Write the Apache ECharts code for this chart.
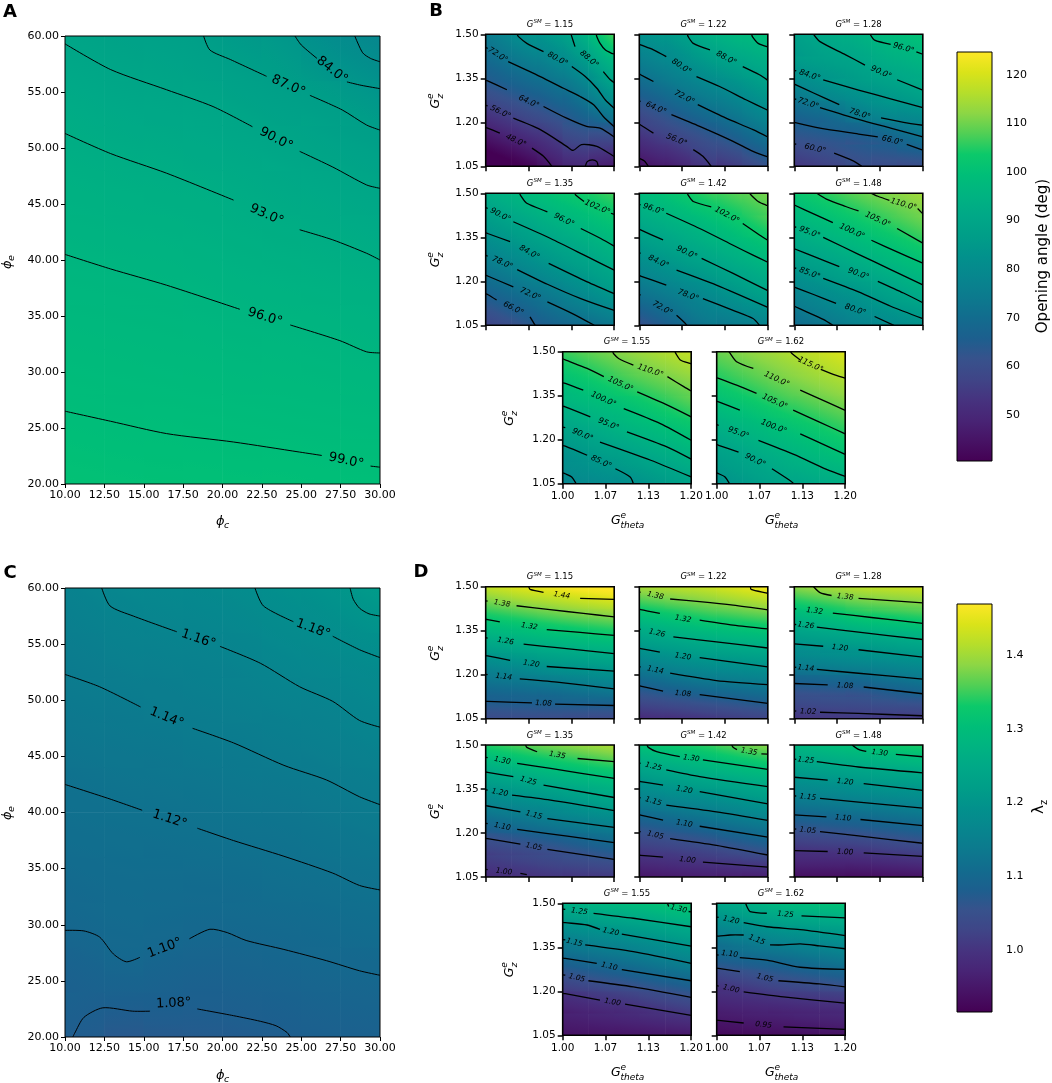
<!DOCTYPE html>
<html><head><meta charset="utf-8">
<script src="https://cdn.jsdelivr.net/npm/echarts@6/dist/echarts.min.js"></script>
<style>html,body{margin:0;padding:0;background:#fff}#c{width:1052px;height:1083px}</style>
</head><body><div id="c"></div>
<script>
// ---------------- DATA ----------------
const PHI_C_TICKS = [10, 12.5, 15, 17.5, 20, 22.5, 25, 27.5, 30];
const PHI_E_TICKS = [20, 25, 30, 35, 40, 45, 50, 55, 60];
const PHI_C_CENTERS = [11.25, 13.75, 16.25, 18.75, 21.25, 23.75, 26.25, 28.75];
const PHI_E_CENTERS = [22, 26, 30, 34, 38, 42, 46, 50, 54, 58];
const A_VALUES = [
  [99.9, 99.7, 99.6, 99.5, 99.4, 99.3, 99.1, 99.0],
  [99.0, 98.8, 98.7, 98.6, 98.4, 98.2, 98.0, 97.8],
  [98.2, 98.0, 97.8, 97.6, 97.3, 97.2, 96.9, 96.6],
  [97.3, 97.1, 96.9, 96.6, 96.3, 96.1, 95.8, 95.4],
  [96.4, 96.2, 96.0, 95.6, 95.1, 94.8, 94.4, 94.0],
  [95.4, 95.1, 94.8, 94.4, 93.9, 93.5, 93.0, 92.4],
  [94.3, 93.9, 93.6, 93.2, 92.6, 91.9, 91.3, 90.5],
  [93.1, 92.6, 92.1, 91.6, 91.0, 90.3, 89.3, 88.3],
  [91.7, 91.0, 90.5, 90.0, 89.1, 88.0, 87.1, 85.6],
  [90.1, 89.4, 88.9, 88.0, 86.7, 85.7, 83.4, 81.6]
];
const C_VALUES = [
  [1.081, 1.078, 1.079, 1.079, 1.081, 1.084, 1.088, 1.090],
  [1.091, 1.096, 1.093, 1.090, 1.092, 1.095, 1.098, 1.100],
  [1.101, 1.105, 1.104, 1.102, 1.103, 1.105, 1.108, 1.111],
  [1.107, 1.110, 1.110, 1.110, 1.112, 1.115, 1.118, 1.121],
  [1.114, 1.116, 1.117, 1.119, 1.122, 1.124, 1.128, 1.132],
  [1.120, 1.123, 1.125, 1.128, 1.131, 1.134, 1.137, 1.142],
  [1.129, 1.132, 1.134, 1.137, 1.140, 1.144, 1.148, 1.154],
  [1.137, 1.140, 1.143, 1.147, 1.150, 1.155, 1.159, 1.166],
  [1.145, 1.150, 1.153, 1.156, 1.160, 1.168, 1.173, 1.179],
  [1.154, 1.161, 1.164, 1.168, 1.173, 1.182, 1.188, 1.199]
];
const A_CONTOURS = [
  {a: [[28.4, 60], [28.9, 58.5], [29.4, 58.0], [30, 57.7]]},
  {lv: '84.0°', a: [[24.6, 60], [25.0, 59.2], [26.0, 58.0]], b: [[27.9, 55.9], [28.8, 55.6], [30, 55.3]]},
  {lv: '87.0°', a: [[18.8, 60], [19.2, 58.75], [20.5, 57.9], [22.8, 56.4]], b: [[25.55, 54.7], [27.6, 53.4], [29.15, 52.05], [30, 51.6]]},
  {lv: '90.0°', a: [[10, 59.3], [12.9, 57], [16.45, 55.2], [19.4, 53.7], [21.9, 51.9]], b: [[24.9, 49.7], [27, 48.3], [29.15, 46.7], [30, 46.4]]},
  {lv: '93.0°', a: [[10, 51.3], [12.9, 49.5], [16.45, 47.75], [20.7, 45.35]], b: [[24.9, 42.7], [27, 41.8], [29.15, 40.6], [30, 40.0]]},
  {lv: '96.0°', a: [[10, 40.5], [12.9, 39.2], [16.45, 37.75], [21.1, 35.6]], b: [[24.3, 34.2], [27.45, 32.8], [29.15, 31.8], [30, 31.7]]},
  {lv: '99.0°', a: [[10, 26.5], [12.9, 25.6], [16.45, 24.5], [20.7, 23.75], [24.9, 22.85], [26.3, 22.55]], b: [[29.4, 21.6], [30, 21.5]]}
];
const C_CONTOURS = [
  {a: [[28.1, 60], [28.3, 59.0], [28.7, 58.2], [29.3, 57.7], [30, 57.5]]},
  {lv: '1.18°', a: [[22.06, 60], [22.6, 58.4], [24.5, 57.0]], b: [[27.0, 55.7], [28.7, 54.5], [30, 53.8]]},
  {lv: '1.16°', a: [[12.33, 60], [12.86, 58.4], [14.34, 57.5], [17.1, 56.1]], b: [[19.84, 54.8], [22.4, 53.3], [24.9, 51.2], [27.0, 49.9], [28.7, 48.2], [30, 47.6]]},
  {lv: '1.14°', a: [[10, 52.3], [12.2, 51.2], [14.8, 49.4]], b: [[18.1, 47.5], [20.7, 46.2], [23.9, 44.2], [26.6, 42.9], [28.7, 41.4], [30, 40.7]]},
  {lv: '1.12°', a: [[10, 42.5], [12.86, 41.2], [14.9, 40.2]], b: [[18.4, 38.6], [20.7, 37.5], [23.9, 36.1], [27.0, 34.6], [28.7, 33.5], [30, 33.1]]},
  {lv: '1.10°', a: [[10, 29.5], [11.2, 29.45], [12.2, 28.9], [13.07, 27.4], [13.9, 26.7], [14.76, 27.1]], b: [[17.9, 28.75], [19.2, 29.6], [20.3, 29.3], [21.5, 28.6], [23.9, 27.8], [26.6, 26.8], [28.7, 25.9], [30, 25.5]]},
  {lv: '1.08°', a: [[10.5, 20], [10.6, 20.3], [11.2, 21.75], [12.4, 22.6], [14.3, 22.3], [15.4, 22.3]], b: [[18.4, 22.5], [20.7, 21.9], [22.4, 21.4], [23.4, 21.0], [24.1, 20.4], [24.3, 20]], at: [16.9, 23.0]}
];

const GSM = [1.15, 1.22, 1.28, 1.35, 1.42, 1.48, 1.55, 1.62];
const GTHETA_TICKS = [1.0, 1.0667, 1.1333, 1.2];
const GZ_TICKS = [1.05, 1.2, 1.35, 1.5];
const GTHETA_CENTERS = [1.02, 1.06, 1.10, 1.14, 1.18];
const GZ_CENTERS = [1.0875, 1.1625, 1.2375, 1.3125, 1.3875, 1.4625];
const B_VALUES = [
  [[40.5, 44.1, 49.1, 53.4, 52.0], [48.3, 52.1, 55.8, 60.6, 61.2], [56.0, 59.7, 63.1, 67.2, 73.0], [63.3, 66.4, 69.6, 73.8, 82.3], [69.0, 72.6, 76.1, 81.2, 90.0], [74.3, 79.1, 82.3, 88.2, 98.5]],
  [[49.0, 52.0, 56.6, 58.4, 63.2], [55.7, 59.1, 62.6, 66.3, 71.0], [62.0, 66.1, 70.1, 73.5, 78.0], [69.2, 73.0, 76.8, 80.2, 84.2], [75.5, 79.0, 83.3, 86.9, 90.1], [81.1, 84.2, 89.6, 93.2, 95.8]],
  [[57.8, 59.8, 62.0, 62.6, 63.8], [63.8, 65.1, 66.3, 68.6, 72.1], [69.7, 72.0, 76.7, 80.2, 81.7], [78.3, 81.8, 84.2, 86.2, 88.8], [85.0, 86.6, 88.7, 91.5, 93.4], [87.8, 90.5, 92.6, 95.6, 97.6]],
  [[62.0, 65.6, 69.2, 72.5, 75.8], [68.4, 71.7, 75.0, 79.2, 83.3], [74.6, 78.2, 81.9, 85.5, 89.1], [80.6, 84.2, 87.7, 90.9, 94.2], [86.3, 89.7, 93.0, 96.0, 98.9], [91.7, 95.0, 98.2, 100.8, 103.4]],
  [[66.7, 70.9, 75.1, 77.5, 79.8], [73.6, 76.8, 79.9, 83.6, 87.3], [80.2, 83.4, 86.5, 89.8, 93.0], [86.1, 89.2, 92.3, 95.4, 98.5], [91.7, 94.5, 97.3, 100.6, 103.9], [96.8, 99.8, 102.8, 105.2, 107.6]],
  [[73.8, 76.7, 79.6, 82.3, 84.8], [79.1, 82.0, 84.7, 88.0, 91.3], [85.3, 88.2, 91.1, 94.0, 96.8], [91.0, 93.6, 96.3, 99.2, 102.1], [96.1, 98.8, 101.5, 104.3, 107.0], [101.0, 103.8, 106.5, 108.8, 111.1]],
  [[80.9, 82.5, 84.1, 87.0, 89.8], [84.6, 87.1, 89.5, 92.4, 95.2], [90.4, 93.0, 95.6, 98.1, 100.5], [95.8, 98.0, 100.2, 103.0, 105.7], [100.5, 103.1, 105.7, 107.9, 110.1], [105.2, 107.7, 110.2, 112.4, 114.6]],
  [[85.6, 88.3, 91.0, 93.0, 95.0], [89.6, 92.4, 95.1, 97.6, 100.0], [94.5, 97.2, 99.8, 102.2, 104.5], [99.8, 102.3, 104.8, 106.9, 109.0], [104.5, 106.9, 109.3, 111.4, 113.5], [108.6, 110.9, 113.1, 115.3, 117.5]]
];
const D_VALUES = [
  [[1.066, 1.069, 1.071, 1.072, 1.072], [1.116, 1.122, 1.129, 1.138, 1.147], [1.179, 1.192, 1.206, 1.214, 1.222], [1.255, 1.267, 1.279, 1.288, 1.296], [1.323, 1.335, 1.347, 1.357, 1.366], [1.395, 1.410, 1.422, 1.434, 1.444]],
  [[1.022, 1.031, 1.040, 1.049, 1.058], [1.090, 1.103, 1.115, 1.123, 1.131], [1.160, 1.174, 1.188, 1.195, 1.202], [1.229, 1.243, 1.257, 1.266, 1.275], [1.297, 1.312, 1.327, 1.336, 1.345], [1.372, 1.383, 1.393, 1.406, 1.419]],
  [[1.027, 1.030, 1.033, 1.037, 1.040], [1.076, 1.080, 1.083, 1.096, 1.108], [1.150, 1.157, 1.164, 1.171, 1.178], [1.209, 1.219, 1.228, 1.238, 1.248], [1.279, 1.295, 1.311, 1.319, 1.327], [1.355, 1.369, 1.382, 1.389, 1.395]],
  [[1.007, 1.015, 1.023, 1.029, 1.035], [1.044, 1.055, 1.066, 1.079, 1.092], [1.110, 1.124, 1.138, 1.150, 1.161], [1.175, 1.188, 1.200, 1.216, 1.231], [1.239, 1.255, 1.270, 1.283, 1.296], [1.310, 1.326, 1.341, 1.354, 1.367]],
  [[0.978, 0.984, 0.990, 0.995, 1.000], [1.029, 1.038, 1.047, 1.061, 1.075], [1.088, 1.101, 1.113, 1.127, 1.140], [1.156, 1.167, 1.177, 1.192, 1.206], [1.217, 1.232, 1.247, 1.259, 1.270], [1.284, 1.298, 1.311, 1.327, 1.342]],
  [[0.964, 0.964, 0.965, 0.970, 0.975], [1.017, 1.021, 1.025, 1.034, 1.042], [1.079, 1.085, 1.091, 1.099, 1.107], [1.142, 1.149, 1.156, 1.163, 1.170], [1.201, 1.209, 1.217, 1.225, 1.232], [1.260, 1.271, 1.281, 1.291, 1.300]],
  [[0.958, 0.962, 0.966, 0.972, 0.978], [0.985, 0.995, 1.004, 1.017, 1.030], [1.044, 1.056, 1.067, 1.081, 1.094], [1.106, 1.118, 1.129, 1.145, 1.160], [1.166, 1.178, 1.190, 1.205, 1.220], [1.236, 1.248, 1.260, 1.274, 1.288]],
  [[0.946, 0.950, 0.953, 0.957, 0.961], [0.979, 0.985, 0.990, 0.995, 0.999], [1.022, 1.035, 1.048, 1.057, 1.066], [1.092, 1.101, 1.110, 1.122, 1.134], [1.148, 1.163, 1.178, 1.188, 1.197], [1.216, 1.235, 1.253, 1.263, 1.272]]
];
const B_CONTOURS = [
  [ // 1.15
    {lv: '48.0°', a: [[1.0, 1.182], [1.003, 1.180], [1.022, 1.163]], b: [[1.072, 1.112], [1.09, 1.084], [1.103, 1.05]]},
    {a: [[1.155, 1.05], [1.158, 1.066], [1.166, 1.072], [1.173, 1.066], [1.175, 1.05]]},
    {lv: '56.0°', a: [[1.0, 1.258], [1.003, 1.256]], b: [[1.043, 1.214], [1.085, 1.175], [1.126, 1.118], [1.136, 1.104], [1.149, 1.124], [1.173, 1.118], [1.198, 1.086], [1.2, 1.084]]},
    {lv: '64.0°', a: [[1.0, 1.343], [1.003, 1.341], [1.033, 1.311]], b: [[1.09, 1.254], [1.126, 1.214], [1.157, 1.186], [1.178, 1.180], [1.2, 1.15]], at: [1.067, 1.27]},
    {lv: '72.0°', a: [[1.0, 1.455], [1.003, 1.452]], b: [[1.035, 1.407], [1.085, 1.356], [1.121, 1.316], [1.147, 1.288], [1.168, 1.26], [1.183, 1.22], [1.2, 1.185]]},
    {lv: '80.0°', a: [[1.049, 1.5], [1.051, 1.492], [1.064, 1.469], [1.09, 1.441]], b: [[1.134, 1.39], [1.155, 1.356], [1.173, 1.316], [1.186, 1.277], [1.2, 1.248]]},
    {lv: '88.0°', a: [[1.133, 1.5], [1.134, 1.492], [1.139, 1.458]], b: [[1.183, 1.373], [1.194, 1.345], [1.2, 1.335]]},
    {a: [[1.172, 1.5], [1.173, 1.492], [1.178, 1.469], [1.186, 1.447], [1.196, 1.435], [1.2, 1.433]]}
  ],
  [ // 1.22
    {a: [[1.0, 1.077], [1.008, 1.068], [1.014, 1.05]]},
    {lv: '56.0°', a: [[1.0, 1.193], [1.002, 1.191], [1.022, 1.163]], b: [[1.084, 1.107], [1.099, 1.084], [1.112, 1.05]], at: [1.058, 1.14]},
    {lv: '64.0°', a: [[1.0, 1.273], [1.002, 1.271]], b: [[1.05, 1.226], [1.094, 1.186], [1.146, 1.135], [1.177, 1.101], [1.2, 1.082]]},
    {lv: '72.0°', a: [[1.0, 1.364], [1.002, 1.362], [1.022, 1.339]], b: [[1.091, 1.26], [1.135, 1.214], [1.177, 1.175], [1.2, 1.15]], at: [1.07, 1.285]},
    {lv: '80.0°', a: [[1.0, 1.466], [1.002, 1.464], [1.022, 1.447], [1.042, 1.424]], b: [[1.089, 1.356], [1.125, 1.322], [1.166, 1.277], [1.2, 1.241]]},
    {lv: '88.0°', a: [[1.075, 1.5], [1.076, 1.492], [1.084, 1.469], [1.11, 1.447]], b: [[1.161, 1.39], [1.187, 1.362], [1.2, 1.343]]},
    {a: [[1.175, 1.5], [1.176, 1.492], [1.185, 1.469], [1.2, 1.457]]}
  ],
  [ // 1.28
    {lv: '96.0°', a: [[1.118, 1.5], [1.125, 1.48], [1.15, 1.466]], b: [[1.19, 1.44], [1.2, 1.432]]},
    {lv: '90.0°', a: [[1.03, 1.5], [1.04, 1.475], [1.08, 1.43], [1.11, 1.395]], b: [[1.16, 1.345], [1.2, 1.31]]},
    {lv: '84.0°', a: [[1.0, 1.377], [1.003, 1.375]], b: [[1.045, 1.345], [1.1, 1.31], [1.15, 1.28], [1.2, 1.25]]},
    {lv: '78.0°', a: [[1.0, 1.33], [1.03, 1.30], [1.07, 1.26]], b: [[1.135, 1.215], [1.17, 1.20], [1.2, 1.19]], at: [1.102, 1.228]},
    {lv: '72.0°', a: [[1.0, 1.28], [1.003, 1.278]], b: [[1.04, 1.25], [1.1, 1.21], [1.15, 1.18], [1.2, 1.15]]},
    {lv: '66.0°', a: [[1.0, 1.2], [1.04, 1.18], [1.1, 1.16], [1.13, 1.15]], b: [[1.175, 1.125], [1.2, 1.105]]},
    {lv: '60.0°', a: [[1.0, 1.127], [1.003, 1.125]], b: [[1.062, 1.095], [1.09, 1.07], [1.105, 1.05]]}
  ],
  [ // 1.35
    {lv: '102.0°', a: [[1.139, 1.5], [1.14, 1.494], [1.153, 1.472]], b: [[1.195, 1.432], [1.2, 1.428]]},
    {lv: '96.0°', a: [[1.053, 1.5], [1.054, 1.494], [1.064, 1.466], [1.096, 1.437]], b: [[1.148, 1.38], [1.179, 1.346], [1.2, 1.32]]},
    {lv: '90.0°', a: [[1.0, 1.451], [1.003, 1.449]], b: [[1.043, 1.403], [1.101, 1.346], [1.158, 1.284], [1.2, 1.238]]},
    {lv: '84.0°', a: [[1.0, 1.365], [1.003, 1.363], [1.038, 1.335]], b: [[1.098, 1.261], [1.158, 1.198], [1.2, 1.158]]},
    {lv: '78.0°', a: [[1.0, 1.288], [1.003, 1.286]], b: [[1.049, 1.24], [1.096, 1.19], [1.148, 1.141], [1.2, 1.101]]},
    {lv: '72.0°', a: [[1.0, 1.22], [1.003, 1.218], [1.043, 1.181]], b: [[1.096, 1.13], [1.135, 1.09], [1.169, 1.05]]},
    {lv: '66.0°', a: [[1.0, 1.157], [1.003, 1.155], [1.017, 1.136]], b: [[1.069, 1.079], [1.077, 1.05]]}
  ],
  [ // 1.42
    {a: [[1.172, 1.5], [1.174, 1.494], [1.185, 1.472], [1.197, 1.46], [1.2, 1.459]]},
    {lv: '102.0°', a: [[1.075, 1.5], [1.076, 1.494], [1.084, 1.472], [1.112, 1.454]], b: [[1.161, 1.397], [1.187, 1.358], [1.2, 1.34]]},
    {lv: '96.0°', a: [[1.0, 1.462], [1.002, 1.46]], b: [[1.042, 1.432], [1.094, 1.38], [1.146, 1.323], [1.177, 1.289], [1.2, 1.265]]},
    {lv: '90.0°', a: [[1.0, 1.377], [1.002, 1.375], [1.037, 1.341]], b: [[1.097, 1.278], [1.146, 1.227], [1.2, 1.168]], at: [1.074, 1.298]},
    {lv: '84.0°', a: [[1.0, 1.297], [1.002, 1.295]], b: [[1.058, 1.238], [1.12, 1.187], [1.2, 1.111]]},
    {lv: '78.0°', a: [[1.0, 1.22], [1.002, 1.218], [1.042, 1.187]], b: [[1.099, 1.141], [1.146, 1.101], [1.177, 1.073], [1.187, 1.05]], at: [1.076, 1.152]},
    {lv: '72.0°', a: [[1.0, 1.155], [1.002, 1.153]], b: [[1.058, 1.084], [1.071, 1.058], [1.074, 1.05]], at: [1.036, 1.108]}
  ],
  [ // 1.48
    {lv: '110.0°', a: [[1.12, 1.5], [1.13, 1.49], [1.148, 1.476]], b: [[1.192, 1.448], [1.2, 1.43]]},
    {lv: '105.0°', a: [[1.035, 1.5], [1.05, 1.48], [1.08, 1.455], [1.1, 1.44]], b: [[1.16, 1.38], [1.2, 1.33]]},
    {lv: '100.0°', a: [[1.0, 1.46], [1.03, 1.43], [1.06, 1.40]], b: [[1.12, 1.34], [1.16, 1.30], [1.2, 1.262]]},
    {lv: '95.0°', a: [[1.0, 1.386], [1.003, 1.384]], b: [[1.045, 1.35], [1.1, 1.292], [1.15, 1.24], [1.2, 1.188]]},
    {lv: '90.0°', a: [[1.0, 1.311], [1.03, 1.285], [1.07, 1.25]], b: [[1.13, 1.2], [1.17, 1.16], [1.2, 1.127]]},
    {lv: '85.0°', a: [[1.0, 1.246], [1.003, 1.244]], b: [[1.045, 1.21], [1.1, 1.164], [1.15, 1.115], [1.2, 1.073]]},
    {lv: '80.0°', a: [[1.0, 1.18], [1.03, 1.155], [1.065, 1.125]], b: [[1.125, 1.08], [1.155, 1.05]]},
    {a: [[1.0, 1.115], [1.02, 1.095], [1.045, 1.07], [1.06, 1.05]]}
  ],
  [ // 1.55
    {a: [[1.175, 1.5], [1.176, 1.494], [1.183, 1.472], [1.198, 1.46], [1.2, 1.459]]},
    {lv: '110.0°', a: [[1.078, 1.5], [1.079, 1.494], [1.087, 1.477], [1.11, 1.454]], b: [[1.163, 1.415], [1.189, 1.38], [1.2, 1.366]]},
    {lv: '105.0°', a: [[1.0, 1.476], [1.004, 1.472], [1.038, 1.443], [1.064, 1.415]], b: [[1.116, 1.363], [1.163, 1.318], [1.2, 1.278]]},
    {lv: '100.0°', a: [[1.0, 1.394], [1.004, 1.392], [1.032, 1.369]], b: [[1.095, 1.306], [1.152, 1.255], [1.2, 1.198]]},
    {lv: '95.0°', a: [[1.0, 1.314], [1.004, 1.312], [1.043, 1.278]], b: [[1.1, 1.227], [1.163, 1.175], [1.2, 1.134]]},
    {lv: '90.0°', a: [[1.0, 1.243], [1.004, 1.241]], b: [[1.058, 1.192], [1.137, 1.13], [1.2, 1.073]]},
    {lv: '85.0°', a: [[1.0, 1.18], [1.004, 1.178], [1.038, 1.147]], b: [[1.082, 1.101], [1.105, 1.073], [1.11, 1.05]]},
    {a: [[1.0, 1.087], [1.004, 1.084], [1.014, 1.073], [1.021, 1.05]]}
  ],
  [ // 1.62
    {lv: '115.0°', a: [[1.115, 1.5], [1.117, 1.494], [1.13, 1.472]], b: [[1.162, 1.44], [1.185, 1.42], [1.2, 1.41]]},
    {lv: '110.0°', a: [[1.019, 1.5], [1.021, 1.494], [1.031, 1.466], [1.057, 1.443]], b: [[1.13, 1.369], [1.17, 1.33], [1.2, 1.30]]},
    {lv: '105.0°', a: [[1.0, 1.411], [1.003, 1.409], [1.031, 1.386], [1.062, 1.358]], b: [[1.119, 1.301], [1.16, 1.26], [1.2, 1.22]]},
    {lv: '100.0°', a: [[1.0, 1.331], [1.003, 1.329], [1.036, 1.301]], b: [[1.13, 1.22], [1.165, 1.185], [1.2, 1.15]], at: [1.089, 1.244]},
    {lv: '95.0°', a: [[1.0, 1.251], [1.003, 1.249]], b: [[1.065, 1.198], [1.12, 1.15], [1.17, 1.1], [1.2, 1.075]]},
    {lv: '90.0°', a: [[1.0, 1.183], [1.003, 1.181], [1.034, 1.158]], b: [[1.086, 1.101], [1.114, 1.061], [1.12, 1.05]]},
    {a: [[1.0, 1.087], [1.003, 1.084], [1.013, 1.073], [1.020, 1.05]]}
  ]
];
const D_CONTOURS = [
  [ // 1.15
    {lv: '1.44', a: [[1.067, 1.5], [1.069, 1.491], [1.09, 1.481]], b: [[1.147, 1.46], [1.2, 1.457]]},
    {lv: '1.38', a: [[1.0, 1.452], [1.003, 1.451]], b: [[1.048, 1.435], [1.1, 1.422], [1.152, 1.409], [1.2, 1.397]]},
    {lv: '1.32', a: [[1.0, 1.389], [1.003, 1.388], [1.022, 1.380]], b: [[1.095, 1.354], [1.147, 1.344], [1.2, 1.334]], at: [1.068, 1.365]},
    {lv: '1.26', a: [[1.0, 1.326], [1.003, 1.325]], b: [[1.059, 1.304], [1.111, 1.292], [1.2, 1.272]]},
    {lv: '1.20', a: [[1.0, 1.265], [1.003, 1.264], [1.038, 1.249]], b: [[1.095, 1.228], [1.2, 1.212]], at: [1.071, 1.237]},
    {lv: '1.14', a: [[1.0, 1.201], [1.003, 1.2]], b: [[1.053, 1.186], [1.111, 1.175], [1.2, 1.152]]},
    {lv: '1.08', a: [[1.0, 1.109], [1.003, 1.109], [1.072, 1.104]], b: [[1.108, 1.1], [1.2, 1.095]]}
  ],
  [ // 1.22
    {a: [[1.173, 1.5], [1.174, 1.491], [1.197, 1.479], [1.2, 1.478]]},
    {lv: '1.38', a: [[1.0, 1.482], [1.002, 1.481]], b: [[1.048, 1.458], [1.094, 1.449], [1.146, 1.437], [1.2, 1.421]]},
    {lv: '1.32', a: [[1.0, 1.424], [1.002, 1.422], [1.032, 1.409]], b: [[1.094, 1.386], [1.146, 1.369], [1.2, 1.356]], at: [1.068, 1.39]},
    {lv: '1.26', a: [[1.0, 1.356], [1.002, 1.354]], b: [[1.053, 1.329], [1.12, 1.312], [1.2, 1.291]]},
    {lv: '1.20', a: [[1.0, 1.291], [1.002, 1.289], [1.032, 1.277]], b: [[1.094, 1.258], [1.2, 1.227]], at: [1.068, 1.262]},
    {lv: '1.14', a: [[1.0, 1.228], [1.002, 1.226]], b: [[1.048, 1.205], [1.12, 1.18], [1.2, 1.166]]},
    {lv: '1.08', a: [[1.0, 1.163], [1.002, 1.161], [1.037, 1.144]], b: [[1.094, 1.132], [1.2, 1.102]], at: [1.068, 1.135]}
  ],
  [ // 1.28
    {lv: '1.38', a: [[1.03, 1.5], [1.04, 1.48], [1.058, 1.47]], b: [[1.1, 1.46], [1.2, 1.445]], at: [1.079, 1.465]},
    {lv: '1.32', a: [[1.0, 1.425], [1.003, 1.424]], b: [[1.06, 1.41], [1.12, 1.395], [1.2, 1.375]]},
    {lv: '1.26', a: [[1.0, 1.372], [1.003, 1.371]], b: [[1.035, 1.362], [1.1, 1.345], [1.2, 1.32]], at: [1.018, 1.368]},
    {lv: '1.20', a: [[1.0, 1.305], [1.045, 1.297]], b: [[1.1, 1.285], [1.2, 1.26]], at: [1.071, 1.291]},
    {lv: '1.14', a: [[1.0, 1.226], [1.003, 1.225]], b: [[1.035, 1.218], [1.1, 1.205], [1.2, 1.185]], at: [1.018, 1.222]},
    {lv: '1.08', a: [[1.0, 1.17], [1.052, 1.165]], b: [[1.108, 1.158], [1.2, 1.135]], at: [1.079, 1.162]},
    {lv: '1.02', a: [[1.0, 1.077], [1.003, 1.076]], b: [[1.04, 1.072], [1.1, 1.068], [1.2, 1.06]]}
  ],
  [ // 1.35
    {lv: '1.35', a: [[1.062, 1.5], [1.064, 1.492], [1.08, 1.477]], b: [[1.143, 1.454], [1.2, 1.443]]},
    {lv: '1.30', a: [[1.0, 1.458], [1.003, 1.457]], b: [[1.049, 1.437], [1.101, 1.42], [1.2, 1.386]]},
    {lv: '1.25', a: [[1.0, 1.408], [1.003, 1.407], [1.043, 1.392]], b: [[1.09, 1.363], [1.2, 1.321]]},
    {lv: '1.20', a: [[1.0, 1.347], [1.003, 1.346]], b: [[1.041, 1.329], [1.101, 1.312], [1.2, 1.276]]},
    {lv: '1.15', a: [[1.0, 1.293], [1.003, 1.292], [1.054, 1.272]], b: [[1.096, 1.249], [1.2, 1.219]]},
    {lv: '1.10', a: [[1.0, 1.233], [1.003, 1.232]], b: [[1.049, 1.212], [1.127, 1.189], [1.2, 1.167]]},
    {lv: '1.05', a: [[1.0, 1.182], [1.003, 1.181], [1.054, 1.162]], b: [[1.096, 1.144], [1.2, 1.11]]},
    {lv: '1.00', a: [[1.0, 1.076], [1.003, 1.075]], b: [[1.054, 1.062], [1.064, 1.058]]}
  ],
  [ // 1.42
    {lv: '1.35', a: [[1.144, 1.5], [1.146, 1.492], [1.152, 1.484]], b: [[1.19, 1.47], [1.2, 1.469]]},
    {lv: '1.30', a: [[1.012, 1.5], [1.014, 1.492], [1.027, 1.477], [1.063, 1.46]], b: [[1.099, 1.449], [1.2, 1.417]]},
    {lv: '1.25', a: [[1.0, 1.438], [1.002, 1.437]], b: [[1.042, 1.415], [1.094, 1.392], [1.2, 1.358]]},
    {lv: '1.20', a: [[1.0, 1.377], [1.002, 1.375], [1.037, 1.363]], b: [[1.094, 1.341], [1.2, 1.299]], at: [1.07, 1.347]},
    {lv: '1.15', a: [[1.0, 1.321], [1.002, 1.32]], b: [[1.042, 1.295], [1.12, 1.272], [1.2, 1.243]]},
    {lv: '1.10', a: [[1.0, 1.263], [1.002, 1.261], [1.037, 1.244]], b: [[1.094, 1.223], [1.2, 1.186]], at: [1.07, 1.232]},
    {lv: '1.05', a: [[1.0, 1.206], [1.002, 1.204]], b: [[1.048, 1.181], [1.12, 1.158], [1.2, 1.125]]},
    {lv: '1.00', a: [[1.0, 1.125], [1.002, 1.124], [1.037, 1.118]], b: [[1.099, 1.101], [1.2, 1.084]], at: [1.075, 1.108]}
  ],
  [ // 1.48
    {lv: '1.30', a: [[1.09, 1.5], [1.1, 1.485], [1.112, 1.478]], b: [[1.158, 1.468], [1.2, 1.46]], at: [1.133, 1.473]},
    {lv: '1.25', a: [[1.0, 1.452], [1.003, 1.451]], b: [[1.035, 1.443], [1.1, 1.425], [1.2, 1.405]], at: [1.018, 1.448]},
    {lv: '1.20', a: [[1.0, 1.39], [1.052, 1.38]], b: [[1.108, 1.368], [1.2, 1.345]], at: [1.079, 1.374]},
    {lv: '1.15', a: [[1.0, 1.327], [1.003, 1.326]], b: [[1.04, 1.318], [1.1, 1.305], [1.2, 1.285]], at: [1.021, 1.322]},
    {lv: '1.10', a: [[1.0, 1.262], [1.05, 1.255]], b: [[1.103, 1.246], [1.2, 1.225]], at: [1.076, 1.251]},
    {lv: '1.05', a: [[1.0, 1.214], [1.003, 1.213]], b: [[1.04, 1.205], [1.1, 1.19], [1.2, 1.165]], at: [1.021, 1.209]},
    {lv: '1.00', a: [[1.0, 1.14], [1.052, 1.137]], b: [[1.108, 1.132], [1.2, 1.12]], at: [1.079, 1.135]}
  ],
  [ // 1.55
    {lv: '1.30', a: [[1.163, 1.5], [1.165, 1.489]], b: [[1.196, 1.472], [1.2, 1.471]]},
    {lv: '1.25', a: [[1.0, 1.48], [1.004, 1.479]], b: [[1.048, 1.466], [1.11, 1.449], [1.2, 1.42]]},
    {lv: '1.20', a: [[1.0, 1.435], [1.004, 1.434], [1.038, 1.426], [1.058, 1.411]], b: [[1.092, 1.395], [1.2, 1.354]]},
    {lv: '1.15', a: [[1.0, 1.376], [1.004, 1.375]], b: [[1.035, 1.358], [1.11, 1.335], [1.2, 1.295]], at: [1.018, 1.366]},
    {lv: '1.10', a: [[1.0, 1.313], [1.004, 1.312], [1.053, 1.295]], b: [[1.092, 1.274], [1.2, 1.236]]},
    {lv: '1.05', a: [[1.0, 1.256], [1.004, 1.255]], b: [[1.04, 1.236], [1.11, 1.215], [1.2, 1.179]]},
    {lv: '1.00', a: [[1.0, 1.193], [1.004, 1.192], [1.058, 1.17]], b: [[1.097, 1.156], [1.2, 1.118]]}
  ],
  [ // 1.62
    {lv: '1.25', a: [[1.045, 1.5], [1.047, 1.489], [1.052, 1.472], [1.078, 1.466]], b: [[1.132, 1.457], [1.2, 1.45]], at: [1.107, 1.462]},
    {lv: '1.20', a: [[1.0, 1.453], [1.003, 1.452]], b: [[1.042, 1.434], [1.078, 1.42], [1.13, 1.41], [1.2, 1.39]]},
    {lv: '1.15', a: [[1.0, 1.389], [1.003, 1.388], [1.021, 1.392], [1.042, 1.392]], b: [[1.083, 1.358], [1.104, 1.358], [1.13, 1.362], [1.16, 1.355], [1.2, 1.345]]},
    {lv: '1.10', a: [[1.0, 1.324], [1.003, 1.323]], b: [[1.036, 1.315], [1.078, 1.306], [1.13, 1.282], [1.2, 1.275]], at: [1.02, 1.327]},
    {lv: '1.05', a: [[1.0, 1.279], [1.003, 1.278], [1.036, 1.267]], b: [[1.096, 1.236], [1.16, 1.225], [1.2, 1.215]], at: [1.075, 1.245]},
    {lv: '1.00', a: [[1.0, 1.219], [1.003, 1.218]], b: [[1.042, 1.198], [1.104, 1.181], [1.2, 1.16]]},
    {lv: '0.95', a: [[1.0, 1.102], [1.003, 1.101], [1.042, 1.092]], b: [[1.104, 1.079], [1.2, 1.07]]}
  ]
];
const ANGLE_RANGE = [40.5, 124.7];
const ANGLE_TICKS = [50, 60, 70, 80, 90, 100, 110, 120];
const LAMBDA_RANGE = [0.916, 1.469];
const LAMBDA_TICKS = [1.0, 1.1, 1.2, 1.3, 1.4];

// colour ramp (evenly spaced from min to max)
const CMAP = ['#440154', '#471365', '#482475', '#46337f', '#3f4587', '#37528c', '#1c5f8e', '#126c8e', '#0c7a8e', '#07868e',
  '#02918c', '#009e88', '#00a887', '#00b381', '#00be78', '#0cc96a', '#50cf55', '#8cd645', '#b5de2b', '#dae319', '#fde725'];

// ---------------- BUILD ----------------
const FONT = '"DejaVu Sans"';
const grids = [], xAxes = [], yAxes = [], series = [], graphics = [];

function addGrid(rect, bw, xa, ya) {
  const gi = grids.length;
  grids.push(Object.assign({show: true, borderColor: '#000', borderWidth: bw, backgroundColor: 'transparent', z: 10, containLabel: false}, rect));
  xAxes.push(Object.assign({gridIndex: gi}, xa));
  yAxes.push(Object.assign({gridIndex: gi}, ya));
  return gi;
}
function valAxis(min, max, ticks, showLabels, fmt, tickLen, tickW, fs, margin, pos) {
  const ax = {type: 'value', min, max, axisLine: {show: false}, splitLine: {show: false},
    axisTick: {show: true, customValues: ticks, length: tickLen, lineStyle: {color: '#000', width: tickW}},
    axisLabel: {show: showLabels, customValues: ticks, formatter: fmt, fontSize: fs, color: '#000', fontFamily: FONT, margin}};
  if (pos) ax.position = pos;
  return ax;
}
// shaded cells: each cell is drawn at its read value, shaded towards its neighbours
function heatSeries(gi, xs, ys, vals, range) {
  const data = [];
  ys.forEach((y, r) => xs.forEach((x, c) => data.push([x, y, vals[r][c], r, c])));
  const hx = (xs[1] - xs[0]) / 2, hy = (ys[1] - ys[0]) / 2;
  const nR = ys.length, nC = xs.length;
  const col = v => echarts.color.lerp(Math.max(0, Math.min(1, (v - range[0]) / (range[1] - range[0]))), CMAP);
  series.push({type: 'custom', xAxisIndex: gi, yAxisIndex: gi, data, encode: {x: 0, y: 1}, clip: true, silent: true, z: 1,
    renderItem: (p, api) => {
      const x = api.value(0), y = api.value(1), v = api.value(2), r = api.value(3), c = api.value(4);
      const a = api.coord([x - hx, y + hy]), b = api.coord([x + hx, y - hy]);
      const w = b[0] - a[0], h = b[1] - a[1];
      const V = (rr, cc) => vals[rr][cc];
      const gx = c === 0 ? V(r, 1) - V(r, 0) : c === nC - 1 ? V(r, c) - V(r, c - 1) : (V(r, c + 1) - V(r, c - 1)) / 2;
      const gy = r === 0 ? V(1, c) - V(0, c) : r === nR - 1 ? V(r, c) - V(r - 1, c) : (V(r + 1, c) - V(r - 1, c)) / 2;
      const dx = gx / w, dy = -gy / h;
      const m = Math.hypot(dx, dy);
      const cx = a[0] + w / 2, cy = a[1] + h / 2;
      let fill;
      if (m < 1e-12) fill = col(v);
      else {
        const ux = dx / m, uy = dy / m;
        const L = (Math.abs(ux) * w + Math.abs(uy) * h) / 2;
        const stops = [];
        for (let k = 0; k <= 6; k++) { const t = k / 6; stops.push({offset: t, color: col(v - m * L + 2 * m * L * t)}); }
        fill = new echarts.graphic.LinearGradient(cx - ux * L, cy - uy * L, cx + ux * L, cy + uy * L, stops, true);
      }
      return {type: 'rect', shape: {x: a[0] - 0.3, y: a[1] - 0.3, width: w + 0.6, height: h + 0.6}, style: {fill}};
    }});
}
function contourSeries(gi, list, font, lw) {
  if (!list.length) return;
  series.push({type: 'custom', xAxisIndex: gi, yAxisIndex: gi, data: list.map(c => c.a[0]), encode: {x: 0, y: 1}, clip: true, silent: true, z: 3,
    renderItem: (p, api) => {
      const c = list[p.dataIndex];
      const pa = c.a.map(q => api.coord(q));
      const ch = [{type: 'polyline', shape: {points: pa, smooth: 0.25}, style: {stroke: '#000', lineWidth: lw, fill: null}}];
      if (c.b) {
        const pb = c.b.map(q => api.coord(q));
        ch.push({type: 'polyline', shape: {points: pb, smooth: 0.25}, style: {stroke: '#000', lineWidth: lw, fill: null}});
        const s = pa[pa.length - 1], e = pb[0];
        const pos = c.at ? api.coord(c.at) : [(s[0] + e[0]) / 2, (s[1] + e[1]) / 2];
        let ang = Math.atan2(e[1] - s[1], e[0] - s[0]);
        if (ang > Math.PI / 2) ang -= Math.PI;
        if (ang < -Math.PI / 2) ang += Math.PI;
        ch.push({type: 'text', x: pos[0], y: pos[1], rotation: -ang,
          style: {text: c.lv, font, fill: '#000', align: 'center', verticalAlign: 'middle'}});
      }
      return {type: 'group', children: ch};
    }});
}
function colorbar(rect, range, ticks, fmt) {
  const gi = addGrid(rect, 1,
    {type: 'value', min: 0, max: 1, show: false},
    valAxis(range[0], range[1], ticks, true, fmt, 5, 1, 11, 14, 'right'));
  const stops = CMAP.map((c, i) => ({offset: 1 - i / (CMAP.length - 1), color: c})).reverse();
  series.push({type: 'custom', xAxisIndex: gi, yAxisIndex: gi, data: [[0, range[0], range[1]]], encode: {x: 0, y: [1, 2]}, silent: true, z: 1,
    renderItem: (p, api) => {
      const a = api.coord([0, api.value(2)]), b = api.coord([1, api.value(1)]);
      return {type: 'rect', shape: {x: a[0], y: a[1], width: b[0] - a[0], height: b[1] - a[1]},
        style: {fill: new echarts.graphic.LinearGradient(0, 0, 0, 1, stops)}};
    }});
}

// text helpers
function T(x, y, text, font, align, extra) {
  return Object.assign({type: 'text', x, y, silent: true, style: {text, font, fill: '#000', align: align || 'left', verticalAlign: 'middle'}}, extra || {});
}
function phiLabel(cx, cy, sub, rot) {
  return {type: 'group', x: cx, y: cy, rotation: rot || 0, silent: true, children: [
    T(-7, 0, 'ϕ', 'italic 13px ' + FONT), T(1, 4, sub, 'italic 9.5px ' + FONT)]};
}
function gLabel(cx, cy, sub, rot, left, subDx) {
  return {type: 'group', x: cx, y: cy, rotation: rot || 0, silent: true, children: [
    T(left, 0, 'G', 'italic 12.5px ' + FONT), T(left + 9.5, -5, 'e', 'italic 9px ' + FONT), T(left + 9.5 + (subDx || 0), 4.5, sub, 'italic 9px ' + FONT)]};
}
function title(cx, cy, g) {
  return {type: 'group', x: cx, y: cy, silent: true, children: [
    T(-23.1, 0, 'G', 'italic 8.5px ' + FONT), T(-16.5, -3, 'SM', 'italic 5.5px ' + FONT), T(-8.3, 0, ' = ' + g.toFixed(2), '8.5px ' + FONT)]};
}

// Large panels
const f2 = v => v.toFixed(2);
const f1 = v => v.toFixed(1);
function bigPanel(rect, vals, contours, range) {
  const gi = addGrid(rect, 1,
    valAxis(10, 30, PHI_C_TICKS, true, f2, 4, 1, 11, 6),
    valAxis(20, 60, PHI_E_TICKS, true, f2, 4, 1, 11, 6));
  heatSeries(gi, PHI_C_CENTERS, PHI_E_CENTERS, vals, range);
  contourSeries(gi, contours, '13px ' + FONT, 1);
}
bigPanel({left: 65, top: 36, width: 315, height: 448}, A_VALUES, A_CONTOURS, ANGLE_RANGE);
bigPanel({left: 65, top: 588, width: 315, height: 449}, C_VALUES, C_CONTOURS, LAMBDA_RANGE);

// Small panels
const COL_L12 = [485.7, 639.3, 794.3], COL_L3 = [562.7, 716.7];
const SW = 128.5, SH = 132;
function smallSet(rowTops, valsAll, contAll, range, font) {
  for (let k = 0; k < 8; k++) {
    const row = Math.floor(k / 3), col = k % 3;
    const left = row < 2 ? COL_L12[col] : COL_L3[col];
    const top = rowTops[row];
    const gi = addGrid({left, top, width: SW, height: SH}, 1.6,
      valAxis(1.0, 1.2, GTHETA_TICKS, row === 2, f2, 5, 1.5, 10.5, 7),
      valAxis(1.05, 1.5, GZ_TICKS, col === 0, f2, 5, 1.5, 10.5, 7));
    heatSeries(gi, GTHETA_CENTERS, GZ_CENTERS, valsAll[k], range);
    contourSeries(gi, contAll[k], font, 1.3);
    graphics.push(title(left + SW / 2, top - 9.5, GSM[k]));
  }
}
const B_TOPS = [34.3, 193.3, 351.7], D_TOPS = [586.7, 745, 903.3];
smallSet(B_TOPS, B_VALUES, B_CONTOURS, ANGLE_RANGE, 'italic 8px ' + FONT);
smallSet(D_TOPS, D_VALUES, D_CONTOURS, LAMBDA_RANGE, 'italic 7.5px ' + FONT);

// Colorbars
colorbar({left: 957, top: 52, width: 35, height: 409}, ANGLE_RANGE, ANGLE_TICKS, v => String(v));
colorbar({left: 957, top: 604, width: 35, height: 408}, LAMBDA_RANGE, LAMBDA_TICKS, f1);

// Labels
graphics.push(T(10, 12, 'A', 'bold 18px ' + FONT, 'center'));
graphics.push(T(436, 11, 'B', 'bold 18px ' + FONT, 'center'));
graphics.push(T(10, 573, 'C', 'bold 18px ' + FONT, 'center'));
graphics.push(T(421, 572, 'D', 'bold 18px ' + FONT, 'center'));
graphics.push(phiLabel(223, 522, 'c'));
graphics.push(phiLabel(223, 1076, 'c'));
graphics.push(phiLabel(8, 262, 'e', Math.PI / 2));
graphics.push(phiLabel(8, 813, 'e', Math.PI / 2));
[[436, 100.5], [436, 259.3], [510, 417.7], [436, 652.7], [436, 811], [510, 969.3]].forEach(p => graphics.push(gLabel(p[0], p[1], 'z', Math.PI / 2, -8, 0.5)));
[[626.9, 521], [781, 521], [626.9, 1073], [781, 1073]].forEach(p => graphics.push(gLabel(p[0], p[1], 'theta', 0, -16, 0)));
graphics.push(T(1043, 256, 'Opening angle (deg)', '15px ' + FONT, 'center', {rotation: Math.PI / 2}));
graphics.push({type: 'group', x: 1039, y: 808, rotation: Math.PI / 2, silent: true, children: [
  T(-6, 0, 'λ', '15px ' + FONT), T(3, 5, 'z', '10px ' + FONT)]});

const chart = echarts.init(document.getElementById('c'), null, {renderer: 'canvas'});
chart.setOption({
  animation: false,
  backgroundColor: '#fff',
  grid: grids, xAxis: xAxes, yAxis: yAxes,
  series,
  graphic: {elements: graphics}
});
</script></body></html>
